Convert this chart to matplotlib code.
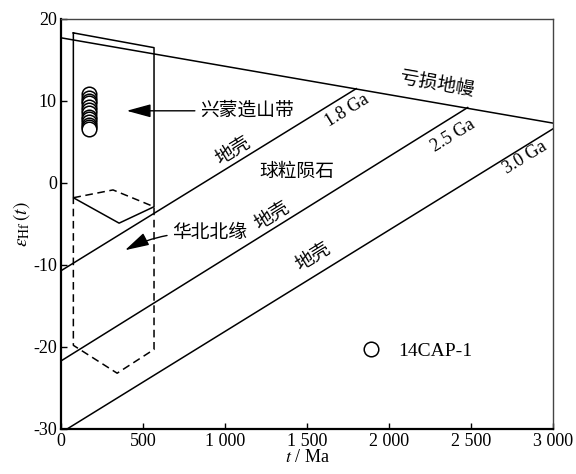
import matplotlib
matplotlib.use('Agg')
import matplotlib.pyplot as plt
from matplotlib.lines import Line2D

plt.rcParams['font.family'] = ['Liberation Serif', 'Noto Sans CJK SC']
plt.rcParams['mathtext.fontset'] = 'stix'
plt.rcParams['axes.unicode_minus'] = False

# evolution lines (t in Ma, eps_Hf)
dm_t = [0, 3000]
dm_eps = [17.7, 7.3]
crust18_t = [0, 1800]
crust18_eps = [-10.7, 11.5]
crust25_t = [0, 2480]
crust25_eps = [-21.7, 9.2]
crust30_t = [37, 3000]
crust30_eps = [-30.0, 6.6]

# Xing-Meng orogenic belt field (solid) and northern NCC margin field (dashed)
xm_t = [75, 567, 567, 354, 75, 75]
xm_eps = [18.3, 16.5, -2.9, -4.9, -1.8, 18.3]
ncc_t = [75, 317, 567, 567, 342, 75, 75]
ncc_eps = [-1.8, -0.85, -2.9, -20.3, -23.2, -19.8, -1.8]

# sample 14CAP-1 zircon data
sample_t = [170, 172, 168, 171, 169, 173, 170, 168, 172, 170, 171, 169, 170]
sample_eps = [10.8, 10.4, 10.0, 9.7, 9.3, 8.9, 8.5, 8.1, 7.8, 7.4, 7.1, 6.8, 6.6]

xticks = [0, 500, 1000, 1500, 2000, 2500, 3000]
xtick_labels = ['0', '500', '1 000', '1 500', '2 000', '2 500', '3 000']
yticks = [-30, -20, -10, 0, 10, 20]

fig = plt.figure(figsize=(5.76, 4.74), dpi=100)
ax = fig.add_axes([0.106, 0.095, 0.854, 0.865])
ax.set_xlim(0, 3000)
ax.set_ylim(-30, 20)

lw = 1.1
ax.plot(dm_t, dm_eps, color='black', lw=lw)
ax.plot(crust18_t, crust18_eps, color='black', lw=lw)
ax.plot(crust25_t, crust25_eps, color='black', lw=lw)
ax.plot(crust30_t, crust30_eps, color='black', lw=lw)
ax.plot(xm_t, xm_eps, color='black', lw=lw)
ax.plot(ncc_t, ncc_eps, color='black', lw=lw, ls=(0, (5, 3)))

ax.plot(sample_t, sample_eps, ls='none', marker='o', ms=10.5, mfc='white',
        mec='black', mew=1.1, zorder=3)

cjk = 13.5
ga = 13
ax.text(2290, 12.0, '亏损地幔', rotation=-10, ha='center', va='center', fontsize=cjk)
ax.text(1744, 8.8, '1.8 Ga', rotation=31.5, ha='center', va='center', fontsize=ga)
ax.text(2390, 5.8, '2.5 Ga', rotation=31.5, ha='center', va='center', fontsize=ga)
ax.text(2830, 3.1, '3.0 Ga', rotation=31.5, ha='center', va='center', fontsize=ga)
ax.text(1050, 3.9, '地壳', rotation=31.5, ha='center', va='center', fontsize=cjk)
ax.text(1290, -4.0, '地壳', rotation=31.5, ha='center', va='center', fontsize=cjk)
ax.text(1540, -9.0, '地壳', rotation=31.5, ha='center', va='center', fontsize=cjk)
ax.text(1440, 1.3, '球粒陨石', ha='center', va='center', fontsize=cjk)

ax.annotate('兴蒙造山带', xy=(400, 8.8), xytext=(850, 8.8), ha='left', va='center',
            fontsize=cjk,
            arrowprops=dict(arrowstyle='-|>,head_length=1.1,head_width=0.3',
                            color='black', lw=1.0, shrinkA=2, shrinkB=0))
ax.annotate('华北北缘', xy=(390, -8.2), xytext=(680, -6.2), ha='left', va='center',
            fontsize=cjk,
            arrowprops=dict(arrowstyle='-|>,head_length=1.1,head_width=0.3',
                            color='black', lw=1.0, shrinkA=2, shrinkB=0,
                            connectionstyle='arc3,rad=0.15'))

handle = Line2D([], [], ls='none', marker='o', ms=10.5, mfc='white', mec='black', mew=1.1)
ax.legend([handle], ['14CAP-1'], loc='center left', bbox_to_anchor=(0.555, 0.19),
          frameon=False, fontsize=14, handletextpad=0.4)

ax.set_xticks(xticks)
ax.set_xticklabels(xtick_labels)
ax.set_yticks(yticks)
ax.tick_params(direction='in', length=4, width=1.0, labelsize=13, pad=3)
ax.tick_params(top=False, right=False)
for side in ['left', 'bottom']:
    ax.spines[side].set_linewidth(1.6)
for side in ['top', 'right']:
    ax.spines[side].set_linewidth(1.0)
    ax.spines[side].set_color('#444444')

ax.set_xlabel('$t$ / Ma', fontsize=13, labelpad=-1)
ax.set_ylabel(r'$\varepsilon_{\rm Hf}\,(t)$', fontsize=14, labelpad=1)

fig.savefig('out.png', dpi=100)
